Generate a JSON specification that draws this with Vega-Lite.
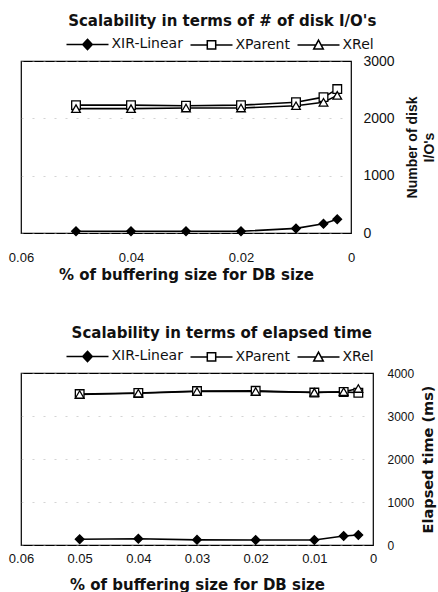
{
  "$schema": "https://vega.github.io/schema/vega-lite/v6.json",
  "padding": {"left": 7, "top": 13, "right": 0, "bottom": 0},
  "background": "white",
  "config": {
    "font": "Liberation Sans",
    "view": {"stroke": "black", "strokeWidth": 1.2},
    "axis": {"labelColor": "#111", "titleColor": "#111", "labelFont": "Liberation Sans", "titleFont": "DejaVu Sans"},
    "title": {"font": "DejaVu Sans", "fontWeight": "bold", "color": "#111"}
  },
  "datasets": {
    "disk": [
      {"x": 0.05, "y": 30, "series": "XIR-Linear"},
      {"x": 0.04, "y": 30, "series": "XIR-Linear"},
      {"x": 0.03, "y": 30, "series": "XIR-Linear"},
      {"x": 0.02, "y": 30, "series": "XIR-Linear"},
      {"x": 0.01, "y": 80, "series": "XIR-Linear"},
      {"x": 0.005, "y": 160, "series": "XIR-Linear"},
      {"x": 0.0025, "y": 240, "series": "XIR-Linear"},
      {"x": 0.05, "y": 2230, "series": "XParent"},
      {"x": 0.04, "y": 2230, "series": "XParent"},
      {"x": 0.03, "y": 2220, "series": "XParent"},
      {"x": 0.02, "y": 2230, "series": "XParent"},
      {"x": 0.01, "y": 2280, "series": "XParent"},
      {"x": 0.005, "y": 2370, "series": "XParent"},
      {"x": 0.0025, "y": 2510, "series": "XParent"},
      {"x": 0.05, "y": 2170, "series": "XRel"},
      {"x": 0.04, "y": 2170, "series": "XRel"},
      {"x": 0.03, "y": 2180, "series": "XRel"},
      {"x": 0.02, "y": 2180, "series": "XRel"},
      {"x": 0.01, "y": 2220, "series": "XRel"},
      {"x": 0.005, "y": 2280, "series": "XRel"},
      {"x": 0.0025, "y": 2400, "series": "XRel"}
    ],
    "time": [
      {"x": 0.05, "y": 133, "series": "XIR-Linear"},
      {"x": 0.04, "y": 147, "series": "XIR-Linear"},
      {"x": 0.03, "y": 120, "series": "XIR-Linear"},
      {"x": 0.02, "y": 116, "series": "XIR-Linear"},
      {"x": 0.01, "y": 116, "series": "XIR-Linear"},
      {"x": 0.005, "y": 209, "series": "XIR-Linear"},
      {"x": 0.0025, "y": 232, "series": "XIR-Linear"},
      {"x": 0.05, "y": 3510, "series": "XParent"},
      {"x": 0.04, "y": 3535, "series": "XParent"},
      {"x": 0.03, "y": 3580, "series": "XParent"},
      {"x": 0.02, "y": 3585, "series": "XParent"},
      {"x": 0.01, "y": 3545, "series": "XParent"},
      {"x": 0.005, "y": 3560, "series": "XParent"},
      {"x": 0.0025, "y": 3540, "series": "XParent"},
      {"x": 0.05, "y": 3500, "series": "XRel"},
      {"x": 0.04, "y": 3530, "series": "XRel"},
      {"x": 0.03, "y": 3570, "series": "XRel"},
      {"x": 0.02, "y": 3570, "series": "XRel"},
      {"x": 0.01, "y": 3550, "series": "XRel"},
      {"x": 0.005, "y": 3565, "series": "XRel"},
      {"x": 0.0025, "y": 3640, "series": "XRel"}
    ]
  },
  "vconcat": [
    {
      "width": 330,
      "height": 172,
      "title": {"text": "Scalability in terms of # of disk I/O's", "fontSize": 15, "anchor": "middle", "frame": "bounds", "offset": 8},
      "data": {"name": "disk"},
      "layer": [
        {
          "mark": {"type": "line", "color": "black", "strokeWidth": 1.6},
          "encoding": {
            "x": {"field": "x", "type": "quantitative", "scale": {"domain": [0, 0.06], "reverse": true, "nice": false, "zero": false},
              "axis": {"values": [0, 0.02, 0.04, 0.06], "format": ".2~f", "labelFlush": false, "ticks": false, "domain": false, "grid": false, "labelFontSize": 13, "labelPadding": 18, "title": "% of buffering size for DB size", "titleFontSize": 15, "titleFontWeight": "bold", "titlePadding": 3}},
            "y": {"field": "y", "type": "quantitative", "scale": {"domain": [0, 3000], "nice": false},
              "axis": {"orient": "right", "values": [0, 500, 1000, 1500, 2000, 2500, 3000], "format": "d", "ticks": false, "domain": false, "grid": true, "gridColor": "#aaa", "gridDash": [2, 9], "gridOpacity": 0.5, "labelFontSize": 14, "labelPadding": 12, "title": ["Number of disk", "I/O's"], "titleFont": "Liberation Sans", "titleAngle": 270, "titleFontSize": 14, "titleFontWeight": "bold", "titlePadding": 8, "titleLineHeight": 17}},
            "detail": {"field": "series"}
          }
        },
        {
          "mark": {"type": "point", "filled": true, "stroke": "black", "strokeWidth": 1.3, "size": 75, "opacity": 1},
          "encoding": {
            "x": {"field": "x", "type": "quantitative"},
            "y": {"field": "y", "type": "quantitative"},
            "shape": {"field": "series", "type": "nominal", "scale": {"range": ["diamond", "square", "triangle-up"]}, "legend": null},
            "fill": {"field": "series", "type": "nominal", "scale": {"domain": ["XIR-Linear", "XParent", "XRel"], "range": ["black", "white", "white"]},
              "legend": {"orient": "none", "legendX": 43, "legendY": -24, "direction": "horizontal", "title": null, "symbolSize": 144, "symbolOffset": 16.5, "labelOffset": 17, "labelFontSize": 14, "labelFont": "DejaVu Sans", "labelColor": "#111", "columnPadding": 4, "symbolStrokeWidth": 1.5, "symbolStrokeColor": "black",
                "symbolType": {"expr": "datum.value === 'XIR-Linear' ? 'M-3.5,0L-0.8,0M0.8,0L3.5,0M0,-0.85L0.8,0L0,0.85L-0.8,0Z' : datum.value === 'XParent' ? 'M-3.5,0L-0.7,0M0.7,0L3.5,0M-0.7,-0.7L0.7,-0.7L0.7,0.7L-0.7,0.7Z' : 'M-3.5,0L-0.42,0M0.42,0L3.5,0M0,-0.8L0.8,0.7L-0.8,0.7Z'"}}}
          }
        }
      ]
    },
    {
      "width": 352,
      "height": 172,
      "title": {"text": "Scalability in terms of elapsed time", "fontSize": 15, "anchor": "middle", "frame": "bounds", "offset": 8},
      "data": {"name": "time"},
      "layer": [
        {
          "mark": {"type": "line", "color": "black", "strokeWidth": 1.6},
          "encoding": {
            "x": {"field": "x", "type": "quantitative", "scale": {"domain": [0, 0.06], "reverse": true, "nice": false, "zero": false},
              "axis": {"values": [0, 0.01, 0.02, 0.03, 0.04, 0.05, 0.06], "format": ".2~f", "labelFlush": false, "ticks": false, "domain": false, "grid": false, "labelFontSize": 13, "labelPadding": 7, "title": "% of buffering size for DB size", "titleFontSize": 15, "titleFontWeight": "bold", "titlePadding": 12}},
            "y": {"field": "y", "type": "quantitative", "scale": {"domain": [0, 4000], "nice": false},
              "axis": {"orient": "right", "values": [0, 500, 1000, 1500, 2000, 2500, 3000, 3500, 4000], "format": "d", "ticks": false, "domain": false, "grid": true, "gridColor": "#aaa", "gridDash": [2, 9], "gridOpacity": 0.5, "labelFontSize": 12, "labelPadding": 14, "title": "Elapsed time (ms)", "titleAngle": 270, "titleFontSize": 14.5, "titleFontWeight": "bold", "titlePadding": 22}},
            "detail": {"field": "series"}
          }
        },
        {
          "mark": {"type": "point", "filled": true, "stroke": "black", "strokeWidth": 1.3, "size": 75, "opacity": 1},
          "encoding": {
            "x": {"field": "x", "type": "quantitative"},
            "y": {"field": "y", "type": "quantitative"},
            "shape": {"field": "series", "type": "nominal", "scale": {"range": ["diamond", "square", "triangle-up"]}, "legend": null},
            "fill": {"field": "series", "type": "nominal", "scale": {"domain": ["XIR-Linear", "XParent", "XRel"], "range": ["black", "white", "white"]},
              "legend": {"orient": "none", "legendX": 43, "legendY": -24, "direction": "horizontal", "title": null, "symbolSize": 144, "symbolOffset": 16.5, "labelOffset": 17, "labelFontSize": 14, "labelFont": "DejaVu Sans", "labelColor": "#111", "columnPadding": 4, "symbolStrokeWidth": 1.5, "symbolStrokeColor": "black",
                "symbolType": {"expr": "datum.value === 'XIR-Linear' ? 'M-3.5,0L-0.8,0M0.8,0L3.5,0M0,-0.85L0.8,0L0,0.85L-0.8,0Z' : datum.value === 'XParent' ? 'M-3.5,0L-0.7,0M0.7,0L3.5,0M-0.7,-0.7L0.7,-0.7L0.7,0.7L-0.7,0.7Z' : 'M-3.5,0L-0.42,0M0.42,0L3.5,0M0,-0.8L0.8,0.7L-0.8,0.7Z'"}}}
          }
        }
      ]
    }
  ],
  "spacing": 42,
  "resolve": {"scale": {"x": "independent", "y": "independent", "fill": "independent", "shape": "independent"}, "legend": {"shape": "independent", "fill": "independent"}}
}
